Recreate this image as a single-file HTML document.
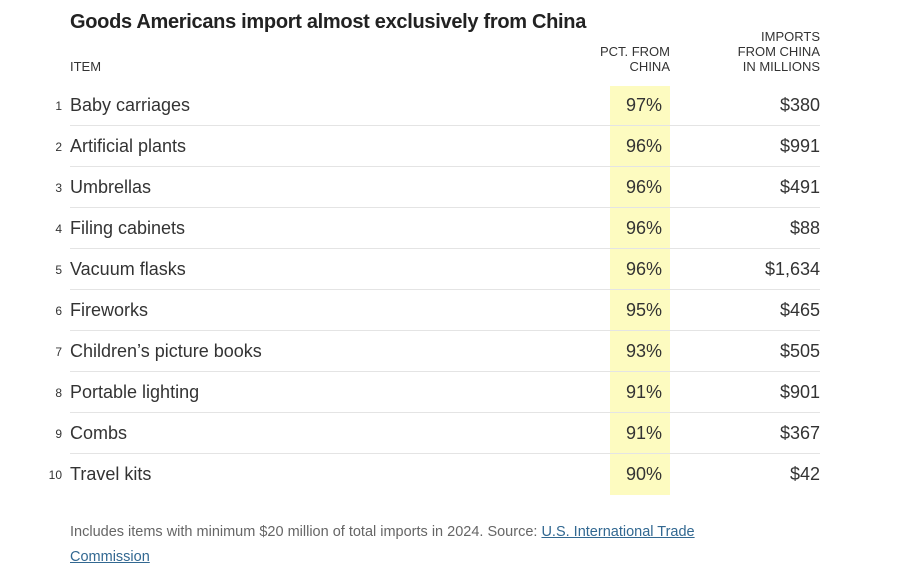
<!DOCTYPE html>
<html><head><meta charset="utf-8"><style>
body{margin:0;width:922px;height:574px;background:#fff;font-family:"Liberation Sans",sans-serif;color:#333;position:relative;overflow:hidden}
.a{position:absolute;white-space:nowrap}
.t{left:70px;top:11px;font-size:20px;font-weight:bold;color:#222;letter-spacing:-0.3px}
.h{font-size:13px;color:#333;line-height:15px;text-transform:uppercase}
.hl{position:absolute;left:610px;top:86px;width:60px;height:409px;background:#fdfbc0}
.row{position:absolute;left:0;width:922px;height:41px}
.n{position:absolute;right:860px;font-size:12px;top:14px;color:#333}
.i{position:absolute;left:70px;top:10px;font-size:18px;color:#333}
.p{position:absolute;right:260px;top:10px;font-size:18px;color:#333}
.v{position:absolute;right:102px;top:10px;font-size:18px;color:#333}
.ln{position:absolute;left:70px;width:750px;height:1px;background:#e4e4e4;bottom:0}
.f{left:70px;top:520px;font-size:14.5px;color:#666;line-height:25px}
.f u{color:#326891}
</style></head><body>
<div class="a t">Goods Americans import almost exclusively from China</div>
<div class="a h" style="left:70px;top:59px">Item</div>
<div class="a h" style="right:252px;top:44px;text-align:right">Pct. from<br>China</div>
<div class="a h" style="right:102px;top:29px;text-align:right">Imports<br>from China<br>in millions</div>
<div class="hl"></div>
<div class="row" style="top:85px"><span class="n">1</span><span class="i">Baby carriages</span><span class="p">97%</span><span class="v">$380</span><div class="ln"></div></div>
<div class="row" style="top:126px"><span class="n">2</span><span class="i">Artificial plants</span><span class="p">96%</span><span class="v">$991</span><div class="ln"></div></div>
<div class="row" style="top:167px"><span class="n">3</span><span class="i">Umbrellas</span><span class="p">96%</span><span class="v">$491</span><div class="ln"></div></div>
<div class="row" style="top:208px"><span class="n">4</span><span class="i">Filing cabinets</span><span class="p">96%</span><span class="v">$88</span><div class="ln"></div></div>
<div class="row" style="top:249px"><span class="n">5</span><span class="i">Vacuum flasks</span><span class="p">96%</span><span class="v">$1,634</span><div class="ln"></div></div>
<div class="row" style="top:290px"><span class="n">6</span><span class="i">Fireworks</span><span class="p">95%</span><span class="v">$465</span><div class="ln"></div></div>
<div class="row" style="top:331px"><span class="n">7</span><span class="i">Children’s picture books</span><span class="p">93%</span><span class="v">$505</span><div class="ln"></div></div>
<div class="row" style="top:372px"><span class="n">8</span><span class="i">Portable lighting</span><span class="p">91%</span><span class="v">$901</span><div class="ln"></div></div>
<div class="row" style="top:413px"><span class="n">9</span><span class="i">Combs</span><span class="p">91%</span><span class="v">$367</span><div class="ln"></div></div>
<div class="row" style="top:454px"><span class="n">10</span><span class="i">Travel kits</span><span class="p">90%</span><span class="v">$42</span></div>
<div class="a f">Includes items with minimum $20 million of total imports in 2024. Source: <u>U.S. International Trade</u><br><u>Commission</u></div>
</body></html>
